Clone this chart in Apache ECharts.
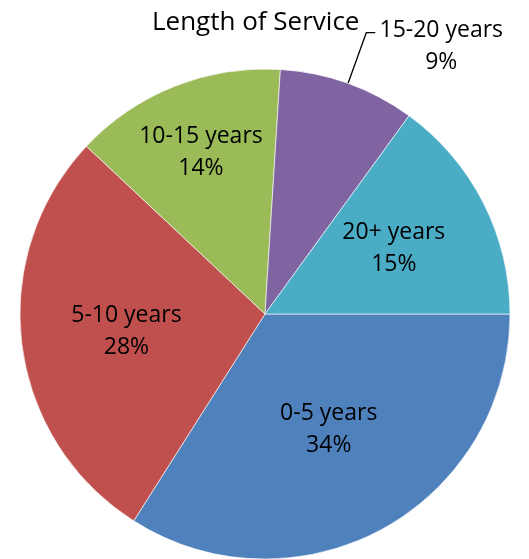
<!DOCTYPE html>
<html><head><meta charset="utf-8">
<script src="https://cdn.jsdelivr.net/npm/echarts@6/dist/echarts.min.js"></script>
<style>html,body{margin:0;padding:0;background:#fff}#c{width:529px;height:559px}</style>
</head><body><div id="c"></div>
<script>
const categories = ['0-5 years', '5-10 years', '10-15 years', '15-20 years', '20+ years'];
const shares = [34, 28, 14, 9, 15];
const chartTitle = 'Length of Service';

const colors = ['#4F81BD', '#C0504D', '#9BBB59', '#8064A2', '#4BACC6'];
const CX = 265, CY = 314, R = 245;
const labelFrac = [0.54, 0.57, 0.71, null, 0.59];
const FONT = 'Open Sans';

const total = shares.reduce((a, b) => a + b, 0);
function midAngle(i) {
  let s = 0;
  for (let k = 0; k < i; k++) s += shares[k];
  return (s + shares[i] / 2) / total * 2 * Math.PI;
}

const data = categories.map((c, i) => {
  const d = { name: c, value: shares[i], itemStyle: { color: colors[i] } };
  if (i === 3) {
    d.label = {
      position: 'outside',
      formatter: p => '{a|' + p.name + '}\n{a|' + Math.round(p.percent) + '%}',
      rich: { a: { width: 128, align: 'center', fontSize: 23, fontFamily: FONT, color: '#000', lineHeight: 32 } },
      padding: [28, 0, 0, 0],
      distanceToLabelLine: 2
    };
    d.labelLine = { show: true, length: 54, length2: 9, lineStyle: { color: '#000', width: 1.3 } };
  }
  return d;
});

const chart = echarts.init(document.getElementById('c'), null, { renderer: 'canvas' });
chart.setOption({
  animation: false,
  title: {
    text: chartTitle, left: 147, top: 5,
    textStyle: { fontFamily: FONT, fontSize: 26, fontWeight: 'normal', color: '#000' }
  },
  series: [{
    type: 'pie',
    center: [CX, CY],
    radius: R,
    startAngle: 0,
    clockwise: true,
    avoidLabelOverlap: false,
    itemStyle: { borderColor: 'rgba(255,255,255,0.6)', borderWidth: 1 },
    label: {
      position: 'inside',
      formatter: p => p.name + '\n' + Math.round(p.percent) + '%',
      fontFamily: FONT, fontSize: 23, color: '#000', lineHeight: 32
    },
    labelLayout: function (params) {
      const i = params.dataIndex;
      if (labelFrac[i] == null) return {};
      const a = midAngle(i);
      return {
        x: CX + Math.cos(a) * R * labelFrac[i],
        y: CY + Math.sin(a) * R * labelFrac[i],
        align: 'center', verticalAlign: 'middle'
      };
    },
    data: data
  }]
});
</script></body></html>
